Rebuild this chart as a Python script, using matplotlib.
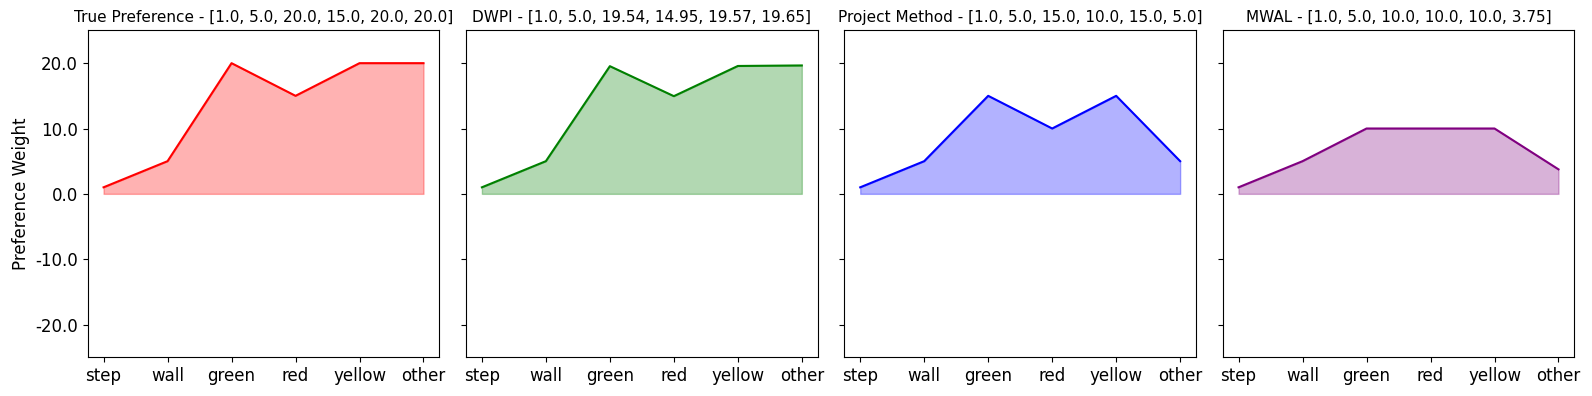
import matplotlib.pyplot as plt
from matplotlib.ticker import FormatStrFormatter

features = ["step", "wall", "green", "red", "yellow", "other"]

true_pref = [1.0, 5.0, 20.0, 15.0, 20.0, 20.0]
dwpi = [1.0, 5.0, 19.54, 14.95, 19.57, 19.65]
project = [1.0, 5.0, 15.0, 10.0, 15.0, 5.0]
mwal = [1.0, 5.0, 10.0, 10.0, 10.0, 3.75]

names = ["True Preference", "DWPI", "Project Method", "MWAL"]
series = [true_pref, dwpi, project, mwal]
colors = ["red", "green", "blue", "purple"]

fig, axes = plt.subplots(1, 4, figsize=(15.92, 3.96), dpi=100, sharey=True)

for ax, name, vals, c in zip(axes, names, series, colors):
    x = range(len(features))
    ax.plot(x, vals, color=c)
    ax.fill_between(x, vals, 0, color=c, alpha=0.3)
    ax.set_title(f"{name} - {vals}", fontsize=11)
    ax.set_xticks(list(x))
    ax.set_xticklabels(features, fontsize=12)
    ax.tick_params(axis="y", labelsize=12)
    ax.set_ylim(-25, 25)
    ax.set_yticks([-20, -10, 0, 10, 20])
    ax.yaxis.set_major_formatter(FormatStrFormatter("%.1f"))

axes[0].set_ylabel("Preference Weight", fontsize=12)

plt.subplots_adjust(left=0.055, right=0.989, top=0.923, bottom=0.098, wspace=0.075)
plt.savefig("out.png")
